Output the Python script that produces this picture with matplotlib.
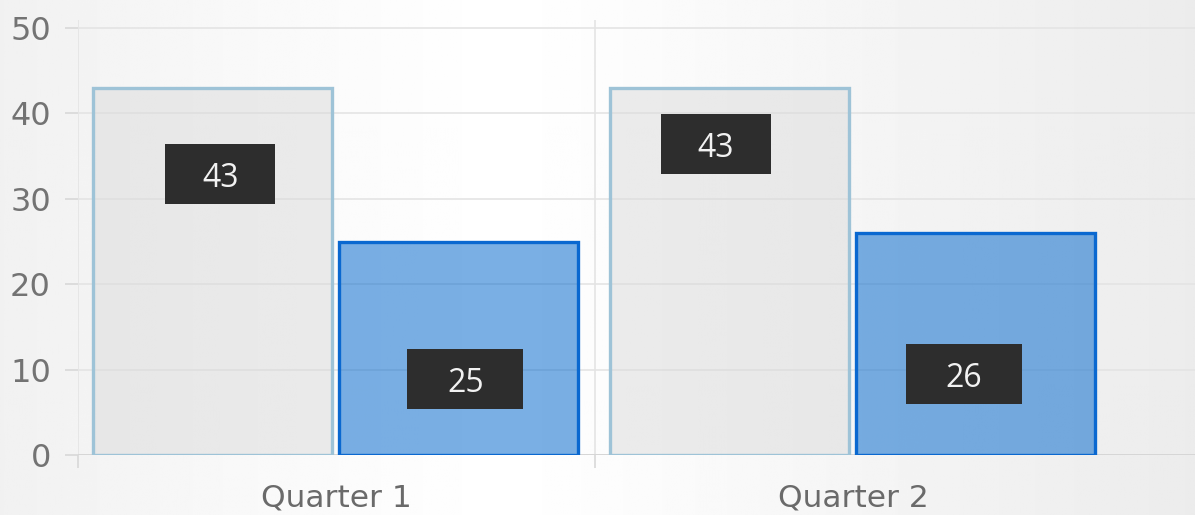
import matplotlib.pyplot as plt
import numpy as np
from matplotlib.patches import Rectangle

categories = ['Quarter 1', 'Quarter 2']
series_a = [43, 43]
series_b = [25, 26]

# where the value boxes sit (data coords, centre of each box)
label_a_x = [0.275, 1.234]
label_a_y = [32.9, 36.4]
label_b_x = [0.749, 1.714]
label_b_y = [8.9, 9.5]

W, H = 1195, 515
fig = plt.figure(figsize=(W / 100, H / 100), dpi=100)

# soft horizontal background gradient
bg = fig.add_axes([0, 0, 1, 1], zorder=-10)
xs = np.linspace(0, 1, 400)
shade = np.interp(xs, [0, 0.2, 0.42, 0.55, 0.8, 1.0], [0.945, 0.975, 1.0, 0.985, 0.95, 0.925])
bg.imshow(np.tile(shade, (2, 1)), cmap='gray', vmin=0, vmax=1, aspect='auto',
          extent=[0, 1, 0, 1])
bg.axis('off')

ax = fig.add_axes([78 / W, (H - 455) / H, 1 - 78 / W, (455 - 20) / H])
ax.patch.set_alpha(0)
ax.set_xlim(0, (W - 78) / 517)
ax.set_ylim(0, (455 - 20) / 8.54)

bw = 0.462
x = np.arange(len(categories))
xa = x + 0.26
xb = x + 0.736

ax.bar(xa, series_a, width=bw, color=(0.86, 0.86, 0.86, 0.5), edgecolor='#9ec3d7',
       linewidth=2.4, zorder=3)
ax.bar(xb, series_b, width=bw, color=(0.0, 0.4, 0.8, 0.52), edgecolor='#0a68d0',
       linewidth=2.4, zorder=3)

def value_box(cx, cy, val, w):
    h = 7.0
    ax.add_patch(Rectangle((cx - w / 2, cy - h / 2), w, h, facecolor='#2d2d2d',
                           edgecolor='none', zorder=5))
    ax.text(cx, cy - 1.5, str(val), ha='center', va='baseline', color='#f2f2f2',
            fontsize=23, family='Open Sans', zorder=6)

for i in range(len(categories)):
    value_box(label_a_x[i], label_a_y[i], series_a[i], 0.213)
    value_box(label_b_x[i], label_b_y[i], series_b[i], 0.224)

for s in ax.spines.values():
    s.set_visible(False)

ax.set_yticks(range(0, 51, 10))
ax.set_xticks([0, 1])
ax.set_xticklabels([])
ax.set_xticks(x + 0.5, minor=True)
ax.set_xticklabels(categories, minor=True)
ax.grid(True, color='#e4e4e4', linewidth=1.2, zorder=0)
ax.set_axisbelow(True)
ax.tick_params(axis='y', length=9.5, width=1.2, color='#d8d8d8', pad=10,
               labelsize=23, labelcolor='#737373')
ax.tick_params(axis='x', which='major', length=9, width=1.2, color='#d8d8d8')
ax.tick_params(axis='x', which='minor', length=0, pad=20.5, labelsize=22.5,
               labelcolor='#6a6a6a')
for lab in ax.get_yticklabels() + ax.get_xticklabels(minor=True):
    lab.set_family('DejaVu Sans')
ax.axhline(0, color='#d6d6d6', linewidth=1.4, zorder=2)

fig.savefig('out.png', dpi=100)
